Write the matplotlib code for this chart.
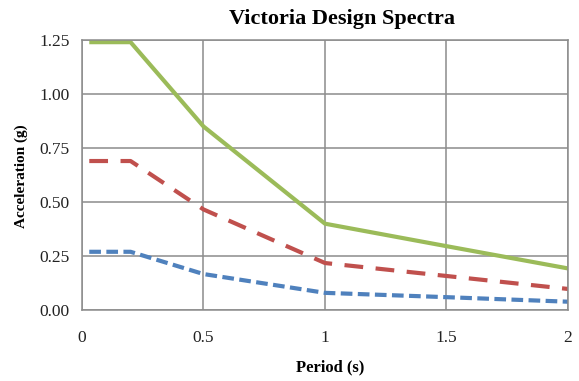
import matplotlib
matplotlib.use("Agg")
import matplotlib.pyplot as plt

# periods (s) and spectral accelerations (g)
period = [0.03, 0.2, 0.5, 1.0, 1.5, 2.0]
green_sa = [1.24, 1.24, 0.85, 0.40, 0.296, 0.193]
red_sa = [0.69, 0.69, 0.466, 0.218, 0.158, 0.098]
blue_sa = [0.27, 0.27, 0.167, 0.08, 0.06, 0.039]

xticks = [0, 0.5, 1, 1.5, 2]
xtick_labels = ["0", "0.5", "1", "1.5", "2"]
yticks = [0, 0.25, 0.5, 0.75, 1.0, 1.25]
ytick_labels = ["0.00", "0.25", "0.50", "0.75", "1.00", "1.25"]

plt.rcParams['font.family'] = ['Liberation Serif', 'DejaVu Serif']

fig = plt.figure(figsize=(5.79, 3.81), dpi=100)
ax = fig.add_axes([0.1416, 0.186, 0.981 - 0.1416, 0.895 - 0.186])

ax.plot(period, green_sa, color="#9BBB59", lw=3.0, solid_capstyle="butt")
ax.plot(period, red_sa, color="#C0504D", lw=3.0, dashes=(4.5, 3), dash_capstyle="butt")
ax.plot(period, blue_sa, color="#4F81BD", lw=3.0, dashes=(2.8, 1.3), dash_capstyle="butt")

ax.set_xlim(0, 2)
ax.set_ylim(0, 1.25)
ax.set_xticks(xticks)
ax.set_xticklabels(xtick_labels)
ax.set_yticks(yticks)
ax.set_yticklabels(ytick_labels)
ax.tick_params(length=0, labelsize=12.5, colors="#222222")
ax.tick_params(axis="x", pad=14)
ax.tick_params(axis="y", pad=9)
ax.grid(True, color="#8c8c8c", lw=1.1)
ax.set_axisbelow(True)
for s in ax.spines.values():
    s.set_color("#8c8c8c")
    s.set_linewidth(1.1)

fig.text(0.57, 0.037, "Period (s)", fontsize=12, fontweight="bold",
         ha="center", va="center")
fig.text(0.0375, 0.537, "Acceleration (g)", fontsize=11, fontweight="bold",
         ha="center", va="center", rotation=90)
fig.text(0.59, 0.95, "Victoria Design Spectra", fontsize=16, fontweight="bold",
         ha="center", va="center")

fig.savefig("out.png", dpi=100)
